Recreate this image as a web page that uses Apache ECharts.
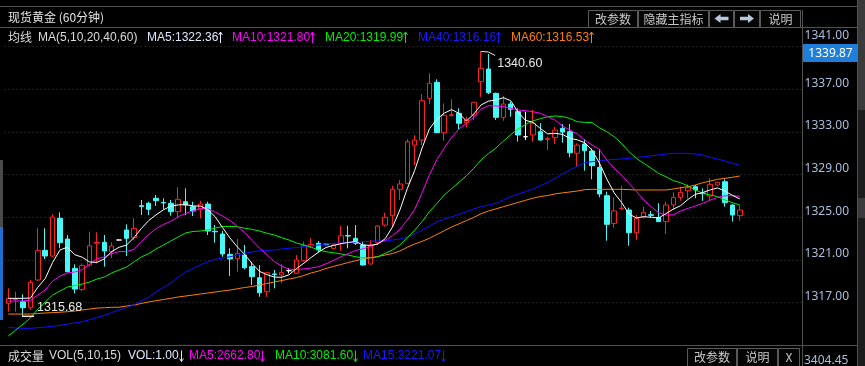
<!DOCTYPE html>
<html><head><meta charset="utf-8">
<script src="https://cdn.jsdelivr.net/npm/echarts@6/dist/echarts.min.js"></script>
<style>html,body{margin:0;padding:0;background:#000;overflow:hidden}#c{width:865px;height:366px}</style>
</head><body><div id="c"></div>
<script>
// ---- data (open, close, low, high) per 60-minute bar ----
const candles = [
[1316.94,1317.41,1316.16,1318.35],[1317.30,1317.38,1316.16,1318.03],[1317.09,1316.53,1315.68,1317.79],[1316.53,1318.91,1316.32,1319.13],
[1319.13,1321.91,1319.05,1323.97],[1321.91,1321.38,1321.10,1323.97],[1321.38,1325.03,1321.31,1325.29],[1324.91,1322.63,1322.10,1325.47],
[1322.97,1319.91,1319.85,1323.35],[1320.22,1318.28,1317.88,1320.60],[1318.25,1320.47,1318.10,1320.69],[1320.53,1322.34,1320.38,1323.66],
[1322.57,1322.66,1320.69,1323.60],[1322.66,1321.85,1320.38,1323.35],[1321.78,1322.32,1321.16,1322.66],[1322.88,1322.88,1322.85,1322.92],
[1323.82,1323.04,1321.38,1324.35],[1323.09,1323.97,1322.88,1324.91],[1326.10,1326.03,1325.22,1326.63],[1326.32,1325.76,1325.22,1326.47],
[1326.79,1326.56,1326.07,1327.10],[1326.40,1326.35,1325.76,1326.79],[1326.32,1325.53,1325.16,1326.63],[1325.53,1326.69,1324.91,1327.82],
[1326.47,1326.16,1325.22,1327.72],[1326.00,1325.60,1325.13,1326.47],[1325.78,1326.25,1324.91,1326.56],[1326.25,1323.72,1323.35,1326.47],
[1323.70,1323.65,1322.63,1324.28],[1323.44,1321.57,1321.31,1323.75],[1321.54,1321.10,1319.50,1322.10],[1321.13,1321.63,1319.91,1322.97],
[1321.47,1320.28,1320.13,1322.41],[1320.38,1319.44,1318.66,1320.84],[1319.34,1317.94,1317.56,1320.53],[1318.03,1319.81,1317.56,1319.91],
[1319.70,1319.65,1318.35,1320.07],[1319.60,1319.85,1318.82,1320.63],[1320.00,1320.00,1319.75,1320.22],[1319.76,1321.00,1319.70,1321.47],
[1320.94,1322.34,1320.84,1322.72],[1322.32,1322.47,1322.10,1323.04],[1322.57,1321.94,1321.69,1322.78],[1322.50,1322.44,1322.38,1322.55],
[1322.10,1322.41,1322.00,1322.57],[1322.57,1323.28,1321.88,1324.19],[1323.30,1323.25,1322.10,1324.22],[1323.04,1322.57,1322.41,1324.28],
[1322.41,1320.53,1320.50,1322.78],[1320.63,1322.41,1320.60,1322.88],[1322.63,1324.19,1322.41,1324.28],[1324.28,1325.01,1324.13,1325.44],
[1325.16,1327.63,1324.13,1327.94],[1327.63,1328.13,1326.63,1328.50],[1328.19,1332.09,1328.10,1332.32],[1331.78,1332.25,1329.91,1332.72],
[1332.25,1335.94,1331.78,1336.57],[1336.16,1337.57,1335.60,1338.51],[1337.66,1332.94,1332.90,1337.94],[1332.94,1334.57,1332.19,1335.69],
[1334.55,1334.62,1334.44,1336.07],[1334.76,1333.82,1333.19,1335.22],[1333.88,1334.13,1333.44,1334.44],[1334.60,1335.79,1334.13,1335.84],
[1337.72,1338.97,1336.31,1340.60],[1338.91,1336.69,1336.54,1340.32],[1336.63,1334.38,1334.13,1336.69],[1334.38,1335.63,1334.06,1336.38],
[1335.63,1335.13,1334.44,1335.84],[1334.91,1332.72,1332.10,1335.22],[1332.56,1332.56,1332.25,1334.91],[1332.72,1333.82,1332.10,1335.07],
[1333.03,1332.25,1332.19,1333.82],[1332.31,1332.38,1331.32,1332.56],[1332.47,1333.19,1331.88,1333.50],[1333.35,1333.00,1332.00,1333.75],
[1333.03,1331.06,1330.63,1333.75],[1331.01,1331.78,1329.75,1331.94],[1331.88,1331.25,1329.38,1332.32],[1331.22,1329.84,1328.57,1331.47],
[1329.69,1327.19,1326.88,1331.38],[1327.03,1324.35,1322.81,1327.41],[1324.44,1325.60,1324.03,1326.88],[1325.80,1325.87,1325.69,1327.94],
[1325.69,1323.56,1322.34,1325.91],[1323.56,1324.91,1322.88,1325.22],[1325.06,1325.47,1324.91,1326.00],[1325.25,1325.19,1324.97,1325.60],
[1324.99,1324.60,1324.58,1326.32],[1324.60,1326.16,1323.44,1326.47],[1326.16,1326.88,1325.69,1327.35],[1326.88,1327.35,1326.56,1327.88],
[1327.50,1327.78,1326.79,1328.10],[1327.88,1327.57,1326.79,1328.03],[1327.28,1327.22,1326.56,1327.72],[1327.00,1328.10,1326.56,1328.66],
[1328.03,1328.29,1327.94,1328.34],[1328.34,1326.38,1326.00,1328.57],[1326.16,1325.22,1324.60,1326.22],[1325.16,1325.69,1324.69,1326.07]
];
const ma5 = [1317.41,1317.41,1317.41,1317.44,1318.45,1319.27,1320.78,1321.95,1322.2,1321.5,
1321.27,1320.82,1320.78,1321.11,1321.8,1322.2,1322.4,1323.1,1323.95,1324.7,
1325.24,1325.71,1326.06,1326.17,1326.2,1326.07,1326.06,1325.74,1325.06,1324.04,
1323.07,1322.23,1321.52,1320.67,1319.94,1319.63,1319.41,1319.38,1319.62,1320.2,
1320.7,1321.25,1321.75,1322.18,1322.37,1322.53,1322.65,1322.74,1322.41,1322.37,
1322.5,1323.0,1324.1,1325.7,1327.7,1329.4,1331.5,1333.3,1334.2,1334.77,
1335.1,1334.75,1334.03,1334.69,1335.55,1335.9,1336.0,1336.22,1335.94,1334.85,
1334.1,1333.91,1333.34,1332.83,1332.88,1332.78,1332.41,1332.27,1332.01,1331.3,
1330.1,1328.6,1327.3,1326.4,1325.32,1324.95,1325.06,1325.02,1324.94,1325.35,
1325.77,1326.1,1326.69,1327.17,1327.33,1327.58,1327.76,1327.46,1327.07,1326.73];
const ma10 = [1317.16,1317.16,1317.16,1317.25,1317.72,1318.19,1319.03,1319.5,1319.79,1319.88,
1320.1,1320.6,1321.1,1321.3,1321.6,1321.8,1321.8,1322.0,1322.7,1323.4,
1323.95,1324.33,1324.64,1325.06,1325.38,1325.6,1325.84,1325.8,1325.5,1325.13,
1324.7,1324.16,1323.6,1322.83,1322.11,1321.5,1320.86,1320.43,1320.14,1320.1,
1320.17,1320.25,1320.38,1320.65,1320.95,1321.3,1321.6,1321.9,1322.05,1322.26,
1322.53,1322.84,1323.28,1323.88,1324.75,1325.75,1327.3,1329.0,1330.4,1331.5,
1332.5,1333.3,1333.8,1334.4,1335.15,1335.47,1335.44,1335.38,1335.23,1335.07,
1335.0,1334.91,1334.76,1334.44,1334.13,1333.56,1333.19,1332.82,1332.26,1331.79,
1331.37,1330.38,1329.6,1328.97,1328.19,1327.45,1326.63,1326.0,1325.44,1325.22,
1325.24,1325.6,1325.85,1326.07,1326.32,1326.63,1326.88,1327.03,1327.03,1326.98];
const ma20 = [1313.88,1314.44,1315.0,1315.57,1316.41,1317.07,1317.72,1318.1,1318.47,1318.61,
1318.75,1318.94,1319.22,1319.41,1319.79,1320.07,1320.35,1320.82,1321.29,1321.6,
1322.04,1322.41,1322.79,1323.16,1323.54,1323.68,1323.72,1323.82,1324.0,1324.15,
1324.15,1324.13,1323.98,1323.88,1323.72,1323.51,1323.35,1323.1,1322.88,1322.6,
1322.41,1322.2,1321.94,1321.78,1321.69,1321.57,1321.47,1321.31,1321.22,1321.2,
1321.31,1321.63,1321.94,1322.41,1323.1,1323.8,1324.6,1325.55,1326.3,1327.1,
1327.7,1328.3,1328.9,1329.6,1330.4,1331.0,1331.5,1332.15,1332.75,1333.3,
1333.7,1334.05,1334.25,1334.43,1334.5,1334.46,1334.27,1333.97,1333.91,1333.88,
1333.4,1333.03,1332.56,1331.94,1331.16,1330.54,1330.07,1329.6,1329.13,1328.81,
1328.45,1328.25,1327.94,1327.57,1327.26,1327.1,1326.94,1326.63,1326.38,1326.16];
const ma40 = [1314.7,1314.63,1314.6,1314.6,1314.66,1314.72,1314.79,1314.88,1315.0,1315.1,
1315.22,1315.41,1315.61,1315.82,1316.08,1316.32,1316.55,1316.81,1317.16,1317.51,
1318.0,1318.43,1318.85,1319.41,1319.88,1320.21,1320.54,1320.82,1321.07,1321.19,
1321.31,1321.47,1321.63,1321.75,1321.88,1321.91,1321.94,1322.04,1322.1,1322.18,
1322.25,1322.32,1322.41,1322.5,1322.57,1322.6,1322.63,1322.67,1322.72,1322.76,
1322.79,1322.8,1322.88,1322.97,1323.16,1323.44,1323.82,1324.19,1324.57,1324.85,
1325.06,1325.29,1325.53,1325.79,1326.0,1326.16,1326.32,1326.63,1326.94,1327.19,
1327.41,1327.66,1327.97,1328.28,1328.65,1329.07,1329.44,1329.79,1330.13,1330.22,
1330.29,1330.38,1330.44,1330.47,1330.54,1330.6,1330.69,1330.76,1330.85,1330.94,
1331.01,1331.01,1331.01,1330.94,1330.85,1330.63,1330.47,1330.29,1330.07,1329.88];
const ma60 = [1315.94,1315.94,1315.94,1315.94,1315.99,1316.04,1316.07,1316.11,1316.16,1316.22,
1316.32,1316.41,1316.5,1316.53,1316.57,1316.58,1316.69,1316.79,1316.93,1317.07,
1317.19,1317.3,1317.41,1317.54,1317.63,1317.72,1317.82,1317.91,1318.0,1318.1,
1318.19,1318.31,1318.43,1318.52,1318.66,1318.8,1318.94,1319.08,1319.22,1319.36,
1319.55,1319.79,1319.97,1320.21,1320.4,1320.58,1320.77,1320.94,1321.1,1321.22,
1321.33,1321.47,1321.61,1321.85,1322.2,1322.5,1322.75,1323.05,1323.4,1323.75,
1324.1,1324.4,1324.7,1325.0,1325.35,1325.6,1325.8,1326.0,1326.2,1326.4,
1326.6,1326.8,1326.95,1327.05,1327.2,1327.3,1327.38,1327.47,1327.6,1327.63,
1327.63,1327.63,1327.63,1327.63,1327.6,1327.57,1327.57,1327.57,1327.57,1327.57,
1327.66,1327.78,1327.88,1328.04,1328.25,1328.41,1328.57,1328.66,1328.76,1328.88];
const slotCount = 108;                       // 100 bars + empty room on the right
const categories = Array.from({length: slotCount}, (_, i) => 'k' + i);
const yTickMin = 1313, yTickMax = 1341, yTickStep = 4;
const title = '现货黄金 (60分钟)';
const maHeader = [
  {text: '均线', color: '#dcdcdc', x: 8, cjk: true},
  {text: 'MA(5,10,20,40,60)', color: '#dcdcdc', x: 38},
  {text: 'MA5:1322.36', color: '#dce8fa', x: 147, arrow: 1},
  {text: 'MA10:1321.80', color: '#ff00ff', x: 232, arrow: 1},
  {text: 'MA20:1319.99', color: '#00f000', x: 325, arrow: 1},
  {text: 'MA40:1316.16', color: '#1a1aff', x: 418, arrow: 1},
  {text: 'MA60:1316.53', color: '#ff8000', x: 511, arrow: 1}
];
const volHeader = [
  {text: '成交量', color: '#dcdcdc', x: 8, cjk: true},
  {text: 'VOL(5,10,15)', color: '#dcdcdc', x: 49},
  {text: 'VOL:1.00', color: '#dce8fa', x: 128, arrow: -1},
  {text: 'MA5:2662.80', color: '#ff00ff', x: 189, arrow: -1},
  {text: 'MA10:3081.60', color: '#00f000', x: 275, arrow: -1},
  {text: 'MA15:3221.07', color: '#1a1aff', x: 363, arrow: -1}
];
const cursorPrice = '1339.87';
const volAxisLabel = '3404.45';

// ---- chart ----
const FONT = '"Noto Sans","Noto Sans CJK SC",sans-serif';
const LAT = '"Liberation Sans","Noto Sans",sans-serif';
const CJK = '"Noto Sans CJK SC","Noto Sans",sans-serif';
const RED = '#ff2020', CYAN = '#48f8f8', GRID = '#3c3c3c', FRAME = '#505050';
const chart = echarts.init(document.getElementById('c'), null, {width: 865, height: 366});
const mctx = document.createElement('canvas').getContext('2d');
function textWidth(text, font) { mctx.font = font; return mctx.measureText(text).width; }

function txt(id, x, y, text, color, size, font, align) {
  return {type: 'text', id, x, y, silent: true, z: 20,
    style: {text, fill: color, font: (size || 12) + 'px ' + (font || FONT), align: align || 'left', verticalAlign: 'middle'}};
}
function line(id, x1, y1, x2, y2, color) {
  return {type: 'line', id, silent: true, z: 15, shape: {x1, y1, x2, y2}, style: {stroke: color || FRAME, lineWidth: 1}};
}
function rect(id, x, y, w, h, fill, stroke) {
  return {type: 'rect', id, silent: true, z: 16, shape: {x, y, width: w, height: h},
    style: {fill: fill || 'none', stroke: stroke || null, lineWidth: 1}};
}
function button(id, x0, x1, y0, y1, label) {
  const out = [rect(id + 'b', x0 + 0.5, y0 + 0.5, x1 - x0, y1 - y0, '#050505', '#5a5a5a')];
  if (label) out.push(Object.assign(txt(id + 't', (x0 + x1) / 2 + 0.5, (y0 + y1) / 2 + 0.5, label, '#c8c8c8', 12, CJK, 'center'), {z: 17}));
  return out;
}
function blockArrow(id, cx, cy, s) {
  const pts = [[cx + 7 * s, cy], [cx + 1 * s, cy - 4.5], [cx + 1 * s, cy - 1.8], [cx - 7 * s, cy - 1.8],
               [cx - 7 * s, cy + 1.8], [cx + 1 * s, cy + 1.8], [cx + 1 * s, cy + 4.5]];
  return {type: 'polygon', id, silent: true, z: 17, shape: {points: pts}, style: {fill: '#b8c6dc'}};
}
function thinArrow(id, x, cy, dir, color) {          // dir 1 = up, -1 = down
  x = Math.round(x) + 0.5;
  const tip = cy - 5.5 * dir, tail = cy + 5.5 * dir;
  return [
    {type: 'polyline', id: id + 's', silent: true, z: 20, shape: {points: [[x, tail], [x, tip]]}, style: {stroke: color, lineWidth: 1, fill: 'none'}},
    {type: 'polyline', id: id + 'h', silent: true, z: 20, shape: {points: [[x - 2, tip + 3 * dir], [x, tip], [x + 2, tip + 3 * dir]]}, style: {stroke: color, lineWidth: 1, fill: 'none'}}
  ];
}
function headerRow(prefix, items, y) {
  const out = [];
  items.forEach((h, i) => {
    const font = h.cjk ? CJK : LAT;
    out.push(txt(prefix + i, h.x, y, h.text, h.color, 12, font));
    if (h.arrow) out.push(...thinArrow(prefix + 'a' + i, h.x + textWidth(h.text, '12px ' + font) + 2, y, h.arrow, h.color));
  });
  return out;
}

const staticGraphics = [].concat(
  [rect('leftGrey', 0, 160, 3, 67, '#4a4a4a'), rect('leftBlue', 0, 227, 3, 93, '#1f6fd0'),
   rect('rightStrip', 858, 0, 7, 366, '#1c1c1c'), rect('rightStrip2', 858, 0, 7, 110, '#3a3a3a'),
   rect('rightStrip3', 858, 198, 7, 20, '#3a3a3a'),
   line('topLine', 0, 6.5, 858, 6.5), line('titleLine', 0, 27.5, 858, 27.5),
   line('paneLine', 0, 345.5, 858, 345.5), line('axisRight', 857.5, 0, 857.5, 366),
   line('axisMid', 802.5, 10, 802.5, 366),
   txt('title', 8, 17.5, title, '#e6e6e6', 12, CJK)],
  headerRow('ma', maHeader, 37.5),
  headerRow('vol', volHeader, 356),
  button('bA', 588, 637, 10, 27, '改参数'), button('bB', 638, 708, 10, 27, '隐藏主指标'),
  button('bC', 709, 733, 10, 27, null), button('bD', 734, 759, 10, 27, null),
  button('bE', 760, 800, 10, 27, '说明'),
  [blockArrow('arL', 721.5, 18.5, -1), blockArrow('arR', 747, 18.5, 1)],
  button('vA', 687, 736, 348, 366, '改参数'), button('vB', 737, 777, 348, 366, '说明'),
  button('vC', 778, 799, 348, 366, 'X'),
  [rect('curBox', 803, 44, 55, 18, '#1f7fd8'),
   Object.assign(txt('curTxt', 830.5, 53.5, cursorPrice, '#ffffff', 12, FONT, 'center'), {z: 22}),
   txt('volAx', 804, 361, volAxisLabel, '#a9bfdf', 12, FONT)]
);

const option = {
  backgroundColor: '#000000',
  animation: false,
  grid: {left: 4.6, width: 798, top: 46.7, height: 298.7, containLabel: false},
  xAxis: {type: 'category', data: categories, boundaryGap: true, show: false},
  yAxis: {
    type: 'value', position: 'right', min: yTickMin, max: yTickMax, interval: yTickStep, scale: true,
    axisLine: {show: true, lineStyle: {color: FRAME}},
    axisTick: {show: false},
    splitLine: {show: true, lineStyle: {color: GRID, type: [1, 3], width: 1}},
    axisLabel: {showMinLabel: false, margin: 2, color: '#a9bfdf', fontSize: 12, fontFamily: FONT,
      verticalAlign: 'bottom', align: 'left',
      formatter: v => v === yTickMax ? '{top|' + v.toFixed(2) + '}' : v.toFixed(2),
      rich: {top: {color: '#a9bfdf', fontSize: 12, fontFamily: FONT, padding: [0, 0, 5, 0]}}}
  },
  series: [
    {type: 'candlestick', data: candles, barWidth: 5, z: 2,
      itemStyle: {color: '#000000', color0: CYAN, borderColor: RED, borderColor0: CYAN,
        borderColorDoji: '#ffffff', borderWidth: 1}},
    {type: 'line', name: 'MA60', data: ma60, symbol: 'none', z: 3, lineStyle: {color: '#ff8000', width: 1}},
    {type: 'line', name: 'MA40', data: ma40, symbol: 'none', z: 3, lineStyle: {color: '#1010ff', width: 1}},
    {type: 'line', name: 'MA20', data: ma20, symbol: 'none', z: 4, lineStyle: {color: '#00ee00', width: 1}},
    {type: 'line', name: 'MA10', data: ma10, symbol: 'none', z: 5, lineStyle: {color: '#ff00ff', width: 1}},
    {type: 'line', name: 'MA5', data: ma5, symbol: 'none', z: 6, lineStyle: {color: '#ffffff', width: 1}}
  ],
  graphic: staticGraphics
};
chart.setOption(option);

// extreme annotations, placed from the data through the chart's own scales
let hiIdx = 0, loIdx = 0;
candles.forEach((r, i) => { if (r[3] > candles[hiIdx][3]) hiIdx = i; if (r[2] < candles[loIdx][2]) loIdx = i; });
const hiP = chart.convertToPixel({gridIndex: 0}, [hiIdx, candles[hiIdx][3]]);
const loP = chart.convertToPixel({gridIndex: 0}, [loIdx, candles[loIdx][2]]);
const ann = [
  {type: 'polyline', id: 'hiLead', silent: true, z: 20,
    shape: {points: [[hiP[0], hiP[1] + 0.5], [hiP[0] + 7, hiP[1] + 1], [hiP[0] + 14, hiP[1] + 4.5]]},
    style: {stroke: '#e8e8e8', lineWidth: 1, fill: 'none'}},
  txt('hiTxt', hiP[0] + 16, hiP[1] + 13, candles[hiIdx][3].toFixed(2), '#e8e8e8', 12.5, LAT),
  {type: 'polyline', id: 'loLead', silent: true, z: 20,
    shape: {points: [[loP[0] - 1, loP[1] - 0.5], [loP[0] + 11, loP[1] - 0.5]]},
    style: {stroke: '#e8e8e8', lineWidth: 1.5, fill: 'none'}},
  txt('loTxt', loP[0] + 14, loP[1] - 9.5, candles[loIdx][2].toFixed(2), '#e8e8e8', 12.5, LAT)
];
chart.setOption({graphic: staticGraphics.concat(ann)}, {replaceMerge: ['graphic']});
</script>
</body></html>
